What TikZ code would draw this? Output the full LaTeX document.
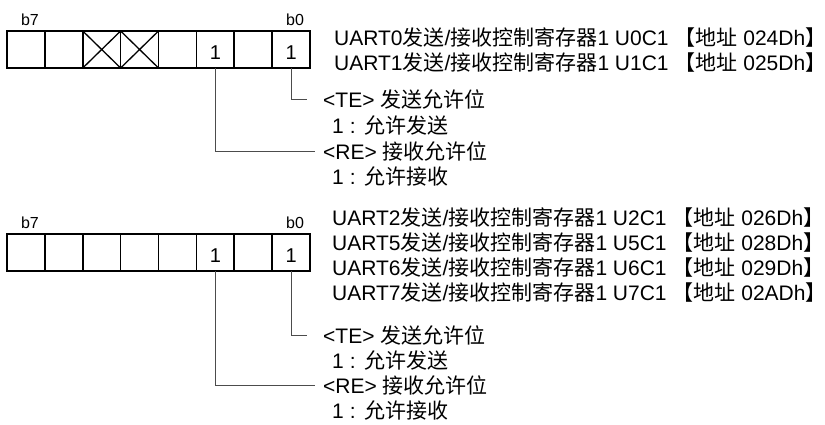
\documentclass[tikz,border=0pt]{standalone}
\usepackage{fontspec}
\setmainfont{Liberation Sans}
\newfontfamily\cjk{Noto Sans CJK SC}
\newcommand\Cj[1]{{\cjk #1}}
\begin{document}
\begin{tikzpicture}[x=1pt,y=-1pt,
  cell/.style={draw, line width=1.6pt, minimum width=37.875pt, minimum height=37pt, inner sep=0, outer sep=0},
  xmark/.style={line width=1.3pt},
  lead/.style={draw=black!70, line width=0.8pt},
  txt/.style={anchor=base west, inner sep=0, font=\fontsize{21}{21}\selectfont},
  num/.style={inner sep=0, font=\fontsize{20}{20}\selectfont},
  bitlbl/.style={inner sep=0, font=\fontsize{16}{16}\selectfont}]
\useasboundingbox (0,0) rectangle (825,425);
% ---------- register 1 ----------
\node[bitlbl] (b7a) at (30,20) {b7};
\node[bitlbl] (b0a) at (295,20) {b0};
\foreach \i in {0,...,7} \node[cell] (r1c\i) at ({7+(\i+0.5)*37.875},49.5) {};
\draw[xmark] (r1c2.north west) -- (r1c2.south east) (r1c2.south west) -- (r1c2.north east);
\draw[xmark] (r1c3.north west) -- (r1c3.south east) (r1c3.south west) -- (r1c3.north east);
\node[num] (n15) at ([yshift=-3pt]r1c5.center) {1};
\node[num] (n17) at ([yshift=-3pt]r1c7.center) {1};
\node[txt] (u0) at (334,46) {UART0\Cj{发送}/\Cj{接收控制寄存器}1 U0C1 \Cj{【地址} 024Dh\Cj{】}};
\node[txt] (u1) at (334,71) {UART1\Cj{发送}/\Cj{接收控制寄存器}1 U1C1 \Cj{【地址} 025Dh\Cj{】}};
\node[txt] (te1) at (323,107.5) {<TE> \Cj{发送允许位}};
\node[txt] (te1v) at (332,133.5) {1\hspace{6pt}:\hspace{9pt}\Cj{允许发送}};
\node[txt] (re1) at (323,159.5) {<RE> \Cj{接收允许位}};
\node[txt] (re1v) at (332,184.5) {1\hspace{6pt}:\hspace{9pt}\Cj{允许接收}};
\coordinate (te1c) at (307,99);
\coordinate (re1c) at (315,151);
\draw[lead] (r1c7.south) |- (te1c);
\draw[lead] (r1c5.south) |- (re1c);
% ---------- register 2 ----------
\node[bitlbl] (b7b) at (30,223) {b7};
\node[bitlbl] (b0b) at (295,223) {b0};
\foreach \i in {0,...,7} \node[cell] (r2c\i) at ({7+(\i+0.5)*37.875},252.5) {};
\node[num] (n25) at ([yshift=-3pt]r2c5.center) {1};
\node[num] (n27) at ([yshift=-3pt]r2c7.center) {1};
\node[txt] (u2) at (332,225.5) {UART2\Cj{发送}/\Cj{接收控制寄存器}1 U2C1 \Cj{【地址} 026Dh\Cj{】}};
\node[txt] (u5) at (332,250.5) {UART5\Cj{发送}/\Cj{接收控制寄存器}1 U5C1 \Cj{【地址} 028Dh\Cj{】}};
\node[txt] (u6) at (332,275.5) {UART6\Cj{发送}/\Cj{接收控制寄存器}1 U6C1 \Cj{【地址} 029Dh\Cj{】}};
\node[txt] (u7) at (332,300.5) {UART7\Cj{发送}/\Cj{接收控制寄存器}1 U7C1 \Cj{【地址} 02ADh\Cj{】}};
\node[txt] (te2) at (323,343.5) {<TE> \Cj{发送允许位}};
\node[txt] (te2v) at (332,368.5) {1\hspace{6pt}:\hspace{9pt}\Cj{允许发送}};
\node[txt] (re2) at (323,393.5) {<RE> \Cj{接收允许位}};
\node[txt] (re2v) at (332,418.5) {1\hspace{6pt}:\hspace{9pt}\Cj{允许接收}};
\coordinate (te2c) at (307,335);
\coordinate (re2c) at (315,385);
\draw[lead] (r2c7.south) |- (te2c);
\draw[lead] (r2c5.south) |- (re2c);
\end{tikzpicture}
\end{document}
